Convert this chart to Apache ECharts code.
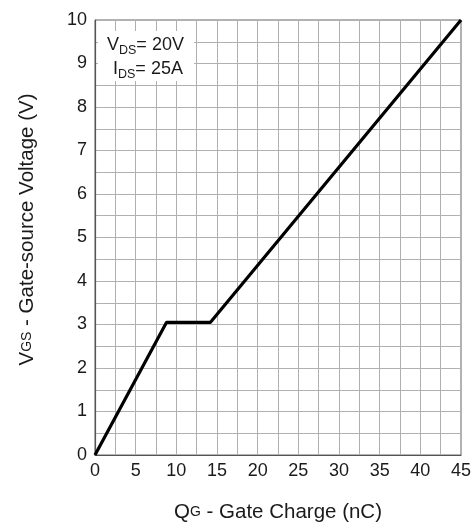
<!DOCTYPE html>
<html>
<head>
<meta charset="utf-8">
<script src="https://cdn.jsdelivr.net/npm/echarts@6/dist/echarts.min.js"></script>
<style>
  html, body { margin: 0; padding: 0; background: #fff; }
  #chart { width: 476px; height: 528px; }
</style>
</head>
<body>
<div id="chart"></div>
<script>
// Gate charge curve: Q_G (nC) vs V_GS (V)
const gateCharge = [0, 8.8, 14.2, 45];
const gateVoltage = [0, 3.05, 3.05, 10];
const xTicks = { min: 0, max: 45, step: 5 };
const yTicks = { min: 0, max: 10, step: 1 };
const conditions = ['V', 'DS', '= 20V', 'I', 'DS', '= 25A'];

const FONT = 'Liberation Sans, Arial, sans-serif';
const TEXT = '#1a1a1a';
const GRID = '#b0b0b0';

const chart = echarts.init(document.getElementById('chart'), null, { renderer: 'canvas' });

const titleRich = {
  m: { fontFamily: FONT, fontSize: 20.5, color: TEXT },
  s: { fontFamily: FONT, fontSize: 14, color: TEXT }
};

chart.setOption({
  animation: false,
  backgroundColor: '#fff',
  grid: {
    left: 95, right: 15, top: 20, bottom: 72,
    show: true, borderColor: '#666', borderWidth: 1
  },
  xAxis: {
    type: 'value',
    min: xTicks.min, max: xTicks.max, interval: xTicks.step,
    axisLine: { show: true, lineStyle: { color: '#555', width: 1.2 } },
    axisTick: { show: false },
    axisLabel: { color: TEXT, fontFamily: FONT, fontSize: 18, margin: 7 },
    splitLine: { show: true, lineStyle: { color: GRID, width: 1 } },
    minorTick: { show: false, splitNumber: 2 },
    minorSplitLine: { show: true, lineStyle: { color: GRID, width: 1 } },
    name: '{m|Q}{s|G}{m| - Gate Charge (nC)}',
    nameLocation: 'middle',
    nameGap: 47,
    nameTextStyle: { rich: titleRich }
  },
  yAxis: {
    type: 'value',
    min: yTicks.min, max: yTicks.max, interval: yTicks.step,
    axisLine: { show: true, lineStyle: { color: '#555', width: 1.2 } },
    axisTick: { show: false },
    axisLabel: { color: TEXT, fontFamily: FONT, fontSize: 18, margin: 8 },
    splitLine: { show: true, lineStyle: { color: GRID, width: 1 } },
    minorTick: { show: false, splitNumber: 2 },
    minorSplitLine: { show: true, lineStyle: { color: GRID, width: 1 } },
    name: '{m|V}{s|GS}{m| - Gate-source Voltage (V)}',
    nameLocation: 'middle',
    nameGap: 57,
    nameRotate: 90,
    nameTextStyle: { rich: titleRich, padding: [0, 0, 0, 16] }
  },
  series: [{
    type: 'line',
    data: gateCharge.map((q, i) => [q, gateVoltage[i]]),
    showSymbol: false,
    lineStyle: { color: '#000', width: 3.2 },
    z: 5
  }],
  graphic: [
    {
      type: 'rect', left: 98, top: 31, z: 100,
      shape: { width: 96, height: 50 },
      style: { fill: '#fff' }
    },
    {
      type: 'text', left: 107, top: 33, z: 101,
      style: {
        text: `{m|${conditions[0]}}{s|${conditions[1]}}{m|${conditions[2]}}`,
        rich: {
          m: { fontFamily: FONT, fontSize: 18, fill: TEXT, lineHeight: 22 },
          s: { fontFamily: FONT, fontSize: 12.5, fill: TEXT, padding: [11, 0, 0, 0], lineHeight: 22 }
        }
      }
    },
    {
      type: 'text', left: 113, top: 57, z: 101,
      style: {
        text: `{m|${conditions[3]}}{s|${conditions[4]}}{m|${conditions[5]}}`,
        rich: {
          m: { fontFamily: FONT, fontSize: 18, fill: TEXT, lineHeight: 22 },
          s: { fontFamily: FONT, fontSize: 12.5, fill: TEXT, padding: [11, 0, 0, 0], lineHeight: 22 }
        }
      }
    }
  ]
});
</script>
</body>
</html>
